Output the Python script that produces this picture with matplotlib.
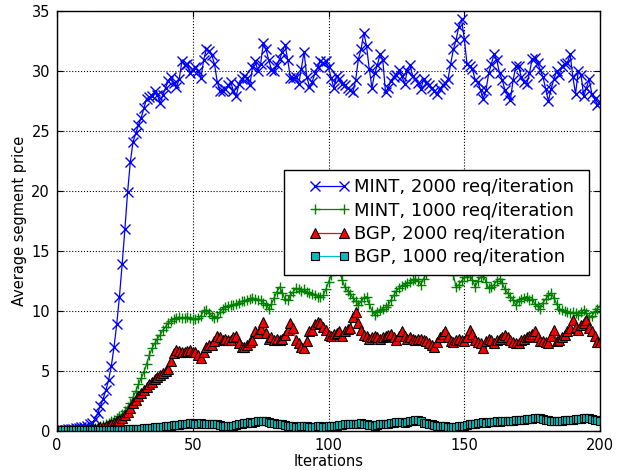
import numpy as np
import matplotlib
matplotlib.use("Agg")
import matplotlib.pyplot as plt
from matplotlib.lines import Line2D
from matplotlib.legend_handler import HandlerLine2D

series_labels = ["MINT, 2000 req/iteration", "MINT, 1000 req/iteration",
                 "BGP, 2000 req/iteration", "BGP, 1000 req/iteration"]

mint_2000 = [0.1, 0.1, 0.1, 0.12, 0.15, 0.17, 0.2, 0.22, 0.27, 0.3, 0.37, 0.45, 0.55,
             0.7, 1.0, 1.5, 2.1, 2.7, 3.4, 4.25, 5.4, 7.0, 8.9, 11.2, 13.9, 16.8, 19.9, 22.4,
             24.1, 24.8, 25.5, 26.1, 26.9, 27.7, 27.8, 27.9, 28.3, 28.0, 27.3, 28.0, 28.6, 29.2,
             29.5, 29.0, 28.7, 29.3, 30.8, 30.5, 30.6, 29.8, 30.1, 30.3, 30.0, 29.4, 30.9, 31.8,
             31.7, 31.3, 30.6, 29.1, 28.3, 28.3, 28.5, 28.8, 29.1, 28.3, 27.9, 28.9, 29.3, 29.6,
             29.4, 28.8, 30.3, 30.8, 30.0, 30.6, 32.3, 31.8, 30.9, 30.1, 30.0, 30.5, 31.0, 31.6,
             32.2, 30.9, 29.4, 29.4, 29.5, 28.9, 30.2, 31.6, 29.5, 28.7, 29.1, 29.8, 30.3, 30.8,
             30.7, 30.8, 30.3, 29.4, 28.6, 29.6, 29.3, 28.9, 28.8, 28.6, 28.4, 28.25, 29.25, 31.0,
             31.8, 33.2, 32.1, 30.2, 28.6, 29.8, 30.5, 31.4, 30.9, 28.25, 28.6, 29.2, 29.5, 29.7,
             30.1, 29.6, 28.9, 30.0, 30.5, 29.6, 29.3, 29.0, 28.5, 29.3, 29.0, 28.8, 28.6, 28.3,
             28.1, 28.5, 28.8, 29.0, 29.3, 30.6, 31.8, 32.6, 33.7, 34.3, 32.7, 30.6, 30.4, 30.2,
             29.25, 29.1, 28.4, 27.7, 28.4, 29.8, 30.6, 31.4, 30.9, 29.8, 29.25, 28.4, 28.0, 27.6,
             29.25, 30.4, 30.4, 29.5, 29.1, 28.9, 29.8, 31.0, 31.1, 30.7, 30.1, 29.5, 28.5, 27.5,
             28.5, 29.3, 30.0, 29.7, 30.4, 30.6, 30.7, 31.4, 29.5, 28.1, 30.0, 29.7, 27.9, 28.6,
             29.3, 28.1, 27.7, 27.2, 27.4]

mint_1000 = [0.05, 0.05, 0.05, 0.05, 0.05, 0.05, 0.06, 0.07, 0.08, 0.1, 0.12, 0.15, 0.18, 0.22,
             0.28, 0.35, 0.42, 0.5, 0.6, 0.7, 0.8, 0.95, 1.1, 1.25, 1.4, 1.7, 2.0, 2.3, 2.8, 3.3,
             3.9, 4.4, 4.9, 5.6, 6.3, 6.9, 7.3, 7.7, 8.0, 8.4, 8.7, 9.0, 9.2, 9.3, 9.4, 9.5, 9.4,
             9.4, 9.5, 9.4, 9.3, 9.3, 9.4, 9.6, 10.0, 10.1, 9.8, 9.6, 9.4, 9.5, 9.9, 10.2, 10.3,
             10.4, 10.5, 10.5, 10.6, 10.7, 10.8, 10.8, 10.9, 11.0, 11.1, 11.0, 10.9, 10.9, 10.7,
             10.5, 10.2, 10.6, 11.1, 11.6, 12.0, 11.5, 11.0, 10.9, 11.3, 11.6, 11.9, 11.8, 11.7,
             11.8, 11.6, 11.5, 11.4, 11.3, 11.2, 11.2, 11.3, 11.8, 12.4, 13.0, 13.6, 14.0, 13.4,
             12.6, 12.0, 11.7, 11.4, 11.1, 10.8, 10.5, 10.8, 11.1, 11.2, 10.6, 10.0, 9.7, 9.9,
             10.1, 10.2, 10.3, 10.5, 10.9, 11.3, 11.7, 11.9, 12.1, 12.2, 12.3, 12.4, 12.6, 12.7,
             12.5, 12.2, 12.7, 13.1, 13.4, 13.6, 13.8, 14.0, 14.2, 14.4, 14.5, 14.2, 13.6, 13.0,
             12.0, 12.2, 12.5, 12.8, 12.85, 13.0, 12.6, 12.0, 12.5, 12.8, 13.0, 12.4, 11.9, 12.0,
             12.2, 12.5, 12.7, 12.3, 11.8, 11.5, 11.2, 10.9, 10.5, 10.8, 11.0, 11.1, 11.2, 10.9,
             11.0, 10.6, 10.4, 10.2, 10.7, 11.0, 11.3, 11.5, 11.1, 10.6, 10.2, 10.1, 10.0, 9.9,
             9.8, 9.9, 9.8, 9.7, 9.9, 10.1, 9.8, 9.5, 9.6, 9.9, 10.2, 10.4]

bgp_2000 = [0.02, 0.02, 0.02, 0.02, 0.02, 0.03, 0.03, 0.04, 0.05, 0.06, 0.08, 0.1, 0.12, 0.15,
            0.2, 0.25, 0.3, 0.35, 0.4, 0.5, 0.6, 0.7, 0.8, 0.95, 1.1, 1.3, 1.6, 1.9, 2.3, 2.6,
            2.9, 3.2, 3.4, 3.7, 3.9, 4.1, 4.3, 4.5, 4.7, 4.8, 5.0, 5.2, 5.8, 6.5, 6.75, 6.7, 6.6,
            6.6, 6.7, 6.75, 6.6, 6.6, 6.3, 6.05, 6.6, 7.0, 7.2, 7.2, 7.5, 7.9, 7.8, 7.6, 7.7,
            7.6, 7.6, 7.8, 7.9, 7.3, 7.0, 7.0, 7.2, 7.4, 7.6, 8.3, 8.2, 8.5, 9.1, 8.2, 7.7, 7.8,
            7.6, 7.7, 7.6, 7.7, 8.0, 8.4, 9.0, 8.6, 7.6, 7.3, 7.0, 6.9, 7.5, 8.3, 8.4, 8.9, 9.1,
            9.0, 8.7, 8.4, 8.0, 7.9, 8.1, 8.2, 8.3, 7.9, 8.3, 8.5, 8.55, 9.5, 9.9, 9.0, 8.4, 8.0,
            7.9, 7.7, 7.8, 7.9, 7.8, 7.7, 7.8, 7.9, 8.0, 8.1, 7.8, 7.6, 7.9, 8.3, 7.9, 7.7, 7.8,
            7.7, 7.6, 7.7, 7.7, 7.6, 7.5, 7.3, 7.2, 7.0, 7.4, 7.8, 8.1, 8.3, 7.8, 7.5, 7.4, 7.6,
            7.7, 7.6, 7.5, 7.8, 8.4, 8.1, 7.6, 7.4, 7.3, 6.9, 7.5, 7.7, 7.6, 7.3, 7.6, 7.7, 7.8,
            8.0, 7.8, 7.6, 7.4, 7.3, 7.3, 7.6, 7.7, 7.8, 7.9, 8.1, 8.3, 7.8, 7.5, 7.5, 7.4, 7.3,
            7.9, 8.4, 7.5, 7.6, 7.8, 8.0, 8.3, 8.6, 9.25, 8.7, 8.4, 8.8, 9.0, 9.25, 8.6, 8.3, 7.9,
            7.4, 7.4]

bgp_1000 = [0.12] * 26 + [
            0.15, 0.15, 0.17, 0.18, 0.2,
            0.2, 0.22, 0.24, 0.26, 0.28, 0.3, 0.32, 0.35, 0.37, 0.4,
            0.42, 0.45, 0.48, 0.5, 0.52, 0.55, 0.6, 0.62, 0.64, 0.65,
            0.62, 0.6, 0.63, 0.6, 0.58, 0.6, 0.62, 0.6, 0.55, 0.5, 0.45, 0.4, 0.38,
            0.4, 0.45, 0.5, 0.55, 0.6, 0.65, 0.7, 0.72, 0.7, 0.75, 0.8, 0.85, 0.86,
            0.8, 0.75, 0.7, 0.65, 0.62, 0.6, 0.55, 0.5, 0.45, 0.42, 0.4, 0.36, 0.35, 0.38,
            0.4, 0.38, 0.36, 0.35, 0.37, 0.4, 0.38, 0.36, 0.36, 0.38, 0.4, 0.42, 0.45, 0.5, 0.52,
            0.55, 0.58, 0.6, 0.62, 0.6, 0.62, 0.64,
            0.6, 0.55, 0.5, 0.48, 0.45, 0.5, 0.55, 0.6, 0.62, 0.6, 0.65, 0.7, 0.72, 0.75, 0.72,
            0.7, 0.75, 0.8, 0.85, 0.88, 0.9,
            0.8, 0.7, 0.65, 0.6, 0.55, 0.5, 0.45, 0.42, 0.4, 0.38, 0.36, 0.35, 0.36, 0.35, 0.38,
            0.4, 0.45,
            0.5, 0.55, 0.6, 0.62, 0.65, 0.7, 0.72, 0.7, 0.72, 0.75, 0.78, 0.8, 0.78, 0.8, 0.82,
            0.85, 0.82, 0.85, 0.88, 0.9,
            0.92, 0.95, 0.98, 1.0, 1.02, 1.05, 1.06, 1.05, 1.0, 0.95, 0.9, 0.85, 0.82, 0.8, 0.82,
            0.85,
            0.88, 0.9, 0.92, 0.95, 0.98, 1.0, 1.02, 1.05, 1.06, 1.06, 1.0, 0.95, 0.9, 0.85]

x_ticks = [0, 50, 100, 150, 200]
y_ticks = [0, 5, 10, 15, 20, 25, 30, 35]


class InsetHandler(HandlerLine2D):
    """Old-style legend handle: markers inset from the left of the handle box."""
    def get_xdata(self, legend, xdescent, ydescent, width, height, fontsize):
        xd = np.array([-xdescent + 0.44 * width, -xdescent + width])
        return xd, xd


fig = plt.figure(figsize=(6.29, 4.70), dpi=100)
ax = fig.add_axes([57 / 629, 1 - 431 / 470, 543 / 629, 420 / 470])

styles = [
    dict(color="#0000ff", marker="x", markersize=6.5, markeredgewidth=1.0, lw=0.9,
         markeredgecolor="#0000ff"),
    dict(color="#008000", marker="+", markersize=7, markeredgewidth=1.0, lw=0.9,
         markeredgecolor="#008000"),
    dict(color="#ff0000", marker="^", markersize=6.5, markeredgewidth=0.8, lw=0.9,
         markerfacecolor="#ff0000", markeredgecolor="black"),
    dict(color="#00bfbf", marker="s", markersize=5.5, markeredgewidth=0.8, lw=0.9,
         markerfacecolor="#00bfbf", markeredgecolor="black"),
]
for ys, lab, st in zip([mint_2000, mint_1000, bgp_2000, bgp_1000], series_labels, styles):
    xs = np.arange(len(ys))
    ax.plot(xs, ys, label=lab, **st)

ax.set_xlim(0, 200)
ax.set_ylim(0, 35)
ax.set_xticks(x_ticks)
ax.set_yticks(y_ticks)
ax.tick_params(direction="in", top=True, right=True, labelsize=10.5, length=4, pad=5)
ax.grid(True, linestyle=":", color="black", linewidth=0.8)
for s in ax.spines.values():
    s.set_linewidth(1.0)
ax.set_xlabel("Iterations", fontsize=10.5, labelpad=1)
ax.set_ylabel("Average segment price", fontsize=10.5, labelpad=3)

leg = ax.legend(loc="upper left", bbox_to_anchor=(0.418, 0.376, 0.5617, 0.2454),
                mode="expand", borderaxespad=0,
                fancybox=False, framealpha=1, edgecolor="black", fontsize=13,
                numpoints=2, handlelength=2.9, borderpad=0.45, labelspacing=0.3,
                handletextpad=0.55, handler_map={Line2D: InsetHandler(numpoints=2)})
leg.get_frame().set_linewidth(1.0)

fig.savefig("out.png", dpi=100)
